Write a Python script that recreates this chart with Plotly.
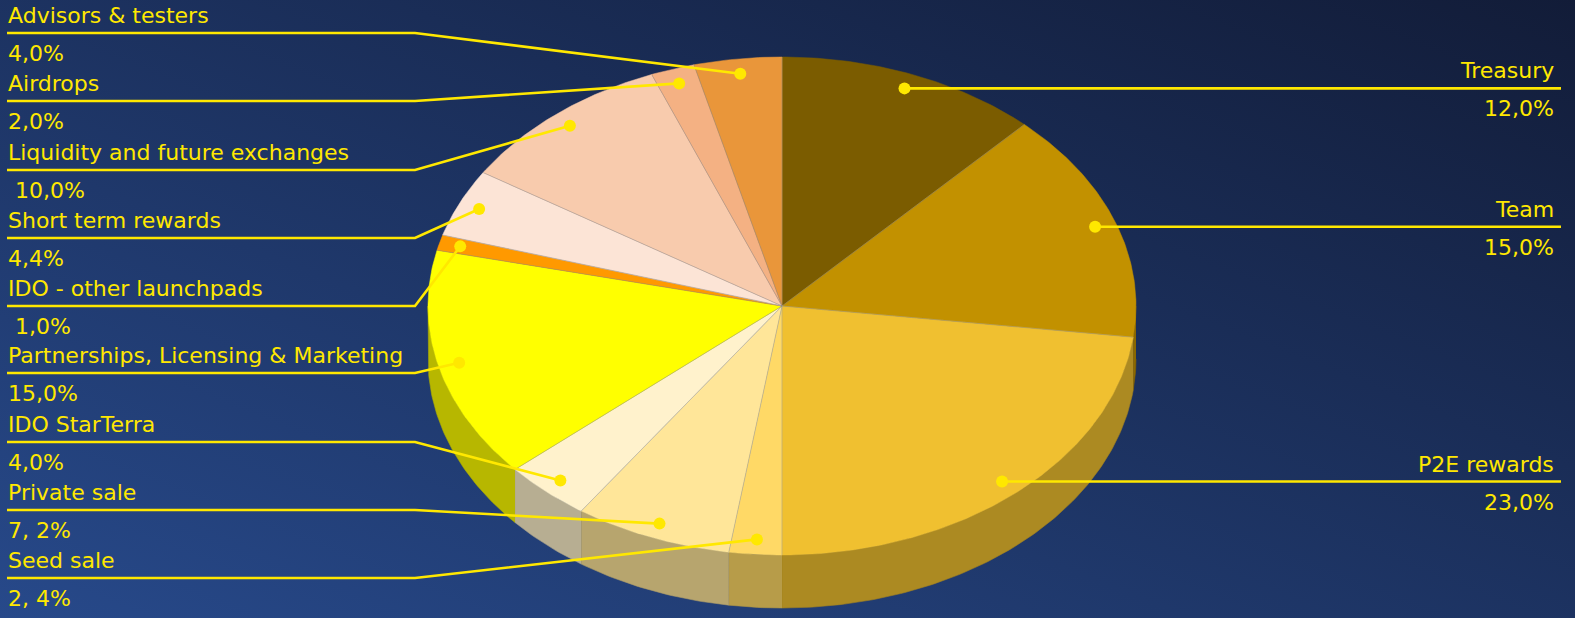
import base64
import numpy as np
import plotly.graph_objects as go

# ---------------- data ----------------
categories = ["Treasury", "Team", "P2E rewards", "Seed sale", "Private sale",
              "IDO StarTerra", "Partnerships, Licensing & Marketing",
              "IDO - other launchpads", "Short term rewards",
              "Liquidity and future exchanges", "Airdrops", "Advisors & testers"]
values = [12.0, 15.0, 23.0, 2.4, 7.2, 4.0, 15.0, 1.0, 4.4, 10.0, 2.0, 4.0]
pct_labels = ["12,0%", "15,0%", "23,0%", "2, 4%", "7, 2%", "4,0%", "15,0%",
              "\u00a01,0%", "4,4%", "\u00a010,0%", "2,0%", "4,0%"]
colors = ["#7B5C00", "#C29100", "#F0C030", "#FFD966", "#FFE699", "#FFF2CC",
          "#FFFF00", "#FF9900", "#FCE4D6", "#F8CBAD", "#F4B183", "#E9963A"]

# ---------------- layout / style ----------------
W, H = 1575, 618
CX, CY, RX, RY, DEPTH = 782, 306, 354, 249, 53
DOT_R = 0.94
YELLOW = "#FFE800"
FONT = "DejaVu Sans"
FS = 22
left_rows = {  # y of the horizontal leader line for labels on the left
    "Advisors & testers": 33, "Airdrops": 101,
    "Liquidity and future exchanges": 170, "Short term rewards": 238,
    "IDO - other launchpads": 306, "Partnerships, Licensing & Marketing": 373,
    "IDO StarTerra": 442, "Private sale": 510, "Seed sale": 578,
}
LEFT_X0, LEFT_ELBOW = 7, 415
RIGHT_X1 = 1561


def darker(hexc, f=0.72):
    r, g, b = int(hexc[1:3], 16), int(hexc[3:5], 16), int(hexc[5:7], 16)
    return "rgb(%d,%d,%d)" % (r * f, g * f, b * f)


def ex(t):
    return CX + RX * np.sin(t)


def ey(t):
    return CY - RY * np.cos(t)


fig = go.Figure()

vals = np.array(values)
cum = np.concatenate([[0], np.cumsum(vals)]) / vals.sum() * 2 * np.pi

# side walls (front half: 90deg..270deg)
for i, c in enumerate(colors):
    a0, a1 = max(cum[i], np.pi / 2), min(cum[i + 1], 3 * np.pi / 2)
    if a1 <= a0:
        continue
    t = np.linspace(a0, a1, max(4, int((a1 - a0) * 80)))
    xs = np.concatenate([ex(t), ex(t[::-1])])
    ys = np.concatenate([ey(t), ey(t[::-1]) + DEPTH])
    fig.add_trace(go.Scatter(x=xs, y=ys, mode="lines", fill="toself",
                             fillcolor=darker(c), line=dict(width=0.6, color=darker(c, 0.68)),
                             hoverinfo="skip", showlegend=False))

# top faces
for i, c in enumerate(colors):
    a0, a1 = cum[i], cum[i + 1]
    t = np.linspace(a0, a1, max(4, int((a1 - a0) * 80)))
    xs = np.concatenate([[CX], ex(t), [CX]])
    ys = np.concatenate([[CY], ey(t), [CY]])
    fig.add_trace(go.Scatter(x=xs, y=ys, mode="lines", fill="toself",
                             fillcolor=c, line=dict(width=0.5, color=c),
                             hoverinfo="skip", showlegend=False))

# radial edges
rx_, ry_ = [], []
for a in cum[:-1]:
    rx_ += [CX, ex(a), None]
    ry_ += [CY, ey(a), None]
fig.add_trace(go.Scatter(x=rx_, y=ry_, mode="lines",
                         line=dict(width=0.8, color="rgba(140,140,140,0.55)"),
                         hoverinfo="skip", showlegend=False))

# leader lines, dots and labels
annotations = []
mids = (cum[:-1] + cum[1:]) / 2
for i, name in enumerate(categories):
    dx = CX + RX * DOT_R * np.sin(mids[i])
    dy = CY - RY * DOT_R * np.cos(mids[i])
    if name in left_rows:
        ly = left_rows[name]
        lx = [LEFT_X0, LEFT_ELBOW, dx]
        lyy = [ly, ly, dy]
        ax, anchor = 6, "left"
    else:
        ly = dy
        lx = [dx, RIGHT_X1]
        lyy = [dy, dy]
        ax, anchor = 1556, "right"
    fig.add_trace(go.Scatter(x=lx, y=lyy, mode="lines",
                             line=dict(width=2.6, color=YELLOW),
                             hoverinfo="skip", showlegend=False))
    fig.add_trace(go.Scatter(x=[dx], y=[dy], mode="markers",
                             marker=dict(size=12, color=YELLOW),
                             hoverinfo="skip", showlegend=False))
    annotations.append(dict(x=ax, y=ly - 3, text=name, showarrow=False,
                            xanchor=anchor, yanchor="bottom", xref="x", yref="y",
                            font=dict(family=FONT, size=FS, color=YELLOW)))
    annotations.append(dict(x=ax, y=ly + 6, text=pct_labels[i], showarrow=False,
                            xanchor=anchor, yanchor="top", xref="x", yref="y",
                            font=dict(family=FONT, size=FS, color=YELLOW)))

svg = ('<svg xmlns="http://www.w3.org/2000/svg" width="1575" height="618">'
       '<defs><linearGradient id="g" x1="1" y1="0" x2="0" y2="1">'
       '<stop offset="0" stop-color="#121C38"/><stop offset="1" stop-color="#27498A"/>'
       '</linearGradient></defs><rect width="1575" height="618" fill="url(#g)"/></svg>')
bg = "data:image/svg+xml;base64," + base64.b64encode(svg.encode()).decode()

fig.update_layout(
    width=W, height=H, margin=dict(l=0, r=0, t=0, b=0),
    paper_bgcolor="#1D3461", plot_bgcolor="rgba(0,0,0,0)",
    xaxis=dict(range=[0, W], visible=False, fixedrange=True),
    yaxis=dict(range=[H, 0], visible=False, fixedrange=True),
    annotations=annotations,
    images=[dict(source=bg, xref="paper", yref="paper", x=0, y=1, sizex=1, sizey=1,
                 sizing="stretch", layer="below", xanchor="left", yanchor="top")],
    hovermode=False,
)

fig.write_html("out.html", config={"displayModeBar": False},
               post_script="document.body.style.margin='0';"
                           "document.body.style.background='#1D3461';"
                           "document.body.style.overflow='hidden';")
